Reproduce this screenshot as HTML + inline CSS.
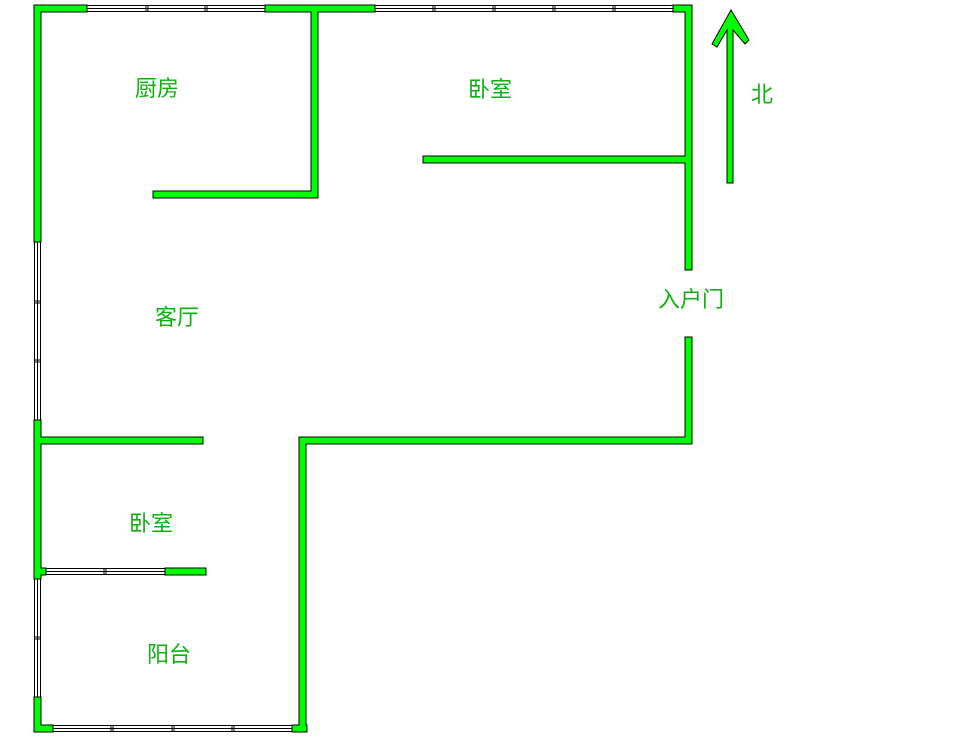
<!DOCTYPE html>
<html><head><meta charset="utf-8"><style>
html,body{margin:0;padding:0;background:#fff;}
svg{display:block}
text{font-family:"Liberation Sans","Noto Sans CJK SC",sans-serif;font-size:22px;fill:#10b010;}
</style></head><body>
<svg width="977" height="739" viewBox="0 0 977 739" xmlns="http://www.w3.org/2000/svg">
<g fill="#fff" stroke="#000" stroke-width="1">
<rect x="87" y="5.5" width="178" height="6"/>
<rect x="375" y="5.5" width="298" height="6"/>
<rect x="34.5" y="242" width="6" height="178"/>
<rect x="34.5" y="579" width="6" height="118"/>
<rect x="46" y="568.5" width="119" height="6"/>
<rect x="53" y="725.5" width="239" height="6"/>
</g>
<g stroke="#000" stroke-width="1">
<line x1="87" y1="8.5" x2="265" y2="8.5"/>
<line x1="375" y1="8.5" x2="673" y2="8.5"/>
<line x1="37.5" y1="242" x2="37.5" y2="420"/>
<line x1="37.5" y1="579" x2="37.5" y2="697"/>
<line x1="46" y1="571.5" x2="165" y2="571.5"/>
<line x1="53" y1="728.5" x2="292" y2="728.5"/>
<line x1="146" y1="5" x2="146" y2="12"/><line x1="148" y1="5" x2="148" y2="12"/>
<line x1="205" y1="5" x2="205" y2="12"/><line x1="207" y1="5" x2="207" y2="12"/>
<line x1="433" y1="5" x2="433" y2="12"/><line x1="435" y1="5" x2="435" y2="12"/>
<line x1="493" y1="5" x2="493" y2="12"/><line x1="495" y1="5" x2="495" y2="12"/>
<line x1="553" y1="5" x2="553" y2="12"/><line x1="555" y1="5" x2="555" y2="12"/>
<line x1="613" y1="5" x2="613" y2="12"/><line x1="615" y1="5" x2="615" y2="12"/>
<line x1="34" y1="301" x2="41" y2="301"/><line x1="34" y1="303" x2="41" y2="303"/>
<line x1="34" y1="360" x2="41" y2="360"/><line x1="34" y1="362" x2="41" y2="362"/>
<line x1="34" y1="637" x2="41" y2="637"/><line x1="34" y1="639" x2="41" y2="639"/>
<line x1="104" y1="568" x2="104" y2="575"/><line x1="106" y1="568" x2="106" y2="575"/>
<line x1="111" y1="725" x2="111" y2="732"/><line x1="113" y1="725" x2="113" y2="732"/>
<line x1="172" y1="725" x2="172" y2="732"/><line x1="174" y1="725" x2="174" y2="732"/>
<line x1="232" y1="725" x2="232" y2="732"/><line x1="234" y1="725" x2="234" y2="732"/>
</g>
<g fill="#000">
<rect x="33.5" y="4.5" width="54" height="8"/>
<rect x="264.5" y="4.5" width="111" height="8"/>
<rect x="672.5" y="4.5" width="20" height="8"/>
<rect x="33.5" y="4.5" width="8" height="238"/>
<rect x="33.5" y="419.5" width="8" height="160"/>
<rect x="33.5" y="696.5" width="8" height="36"/>
<rect x="33.5" y="724.5" width="20" height="8"/>
<rect x="291.5" y="724.5" width="16" height="8"/>
<rect x="298.5" y="436.5" width="8" height="296"/>
<rect x="298.5" y="436.5" width="394" height="8"/>
<rect x="684.5" y="4.5" width="8" height="266"/>
<rect x="684.5" y="336.5" width="8" height="108"/>
<rect x="310.5" y="4.5" width="8" height="193"/>
<rect x="152.5" y="190.5" width="166" height="8"/>
<rect x="422.5" y="155.5" width="270" height="8"/>
<rect x="33.5" y="436.5" width="170" height="8"/>
<rect x="33.5" y="567.5" width="13" height="8"/>
<rect x="164.5" y="567.5" width="42" height="8"/>
</g>
<g fill="#00ff00">
<rect x="34.5" y="5.5" width="52" height="6"/>
<rect x="265.5" y="5.5" width="109" height="6"/>
<rect x="673.5" y="5.5" width="18" height="6"/>
<rect x="34.5" y="5.5" width="6" height="236"/>
<rect x="34.5" y="420.5" width="6" height="158"/>
<rect x="34.5" y="697.5" width="6" height="34"/>
<rect x="34.5" y="725.5" width="18" height="6"/>
<rect x="292.5" y="725.5" width="14" height="6"/>
<rect x="299.5" y="437.5" width="6" height="294"/>
<rect x="299.5" y="437.5" width="392" height="6"/>
<rect x="685.5" y="5.5" width="6" height="264"/>
<rect x="685.5" y="337.5" width="6" height="106"/>
<rect x="311.5" y="5.5" width="6" height="191"/>
<rect x="153.5" y="191.5" width="164" height="6"/>
<rect x="423.5" y="156.5" width="268" height="6"/>
<rect x="34.5" y="437.5" width="168" height="6"/>
<rect x="34.5" y="568.5" width="11" height="6"/>
<rect x="165.5" y="568.5" width="40" height="6"/>
</g>
<polygon points="727,183 733,183 733,30 745,44 749,40 731,10 712,44 717,47 727,30" fill="#00ff00" stroke="#000" stroke-width="1"/>
<text x="135" y="96">厨房</text>
<text x="468" y="97">卧室</text>
<text x="155" y="325">客厅</text>
<text x="129" y="531">卧室</text>
<text x="147" y="662">阳台</text>
<text x="658" y="307">入户门</text>
<text x="751" y="102">北</text>
</svg>
</body></html>
